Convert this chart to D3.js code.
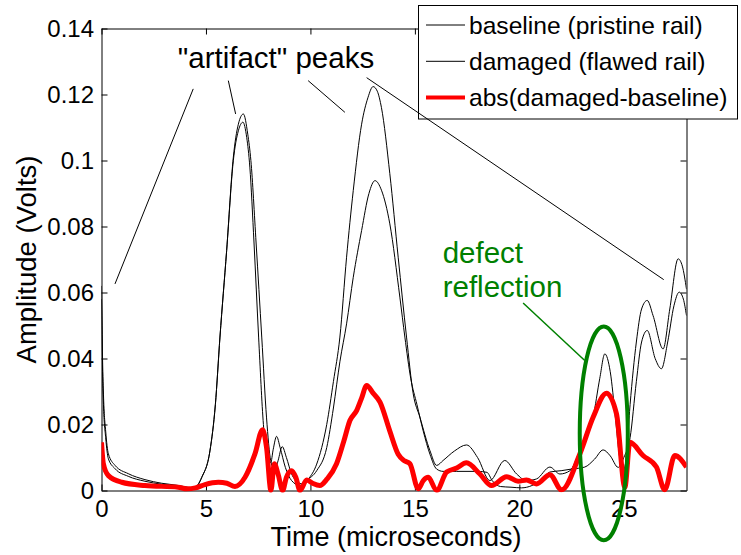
<!DOCTYPE html>
<html><head><meta charset="utf-8">
<script src="https://cdn.jsdelivr.net/npm/d3@7"></script>
<style>body{margin:0;background:#fff}svg text{font-family:"Liberation Sans",Arial,sans-serif}</style>
</head><body><svg id="c" width="741" height="555"></svg>
<script>
// ---- data ----
const timeTicks = [0, 5, 10, 15, 20, 25];
const ampTicks = [0, 0.02, 0.04, 0.06, 0.08, 0.10, 0.12, 0.14];
const ampTickLabels = ["0", "0.02", "0.04", "0.06", "0.08", "0.1", "0.12", "0.14"];
const seriesNames = ["baseline (pristine rail)", "damaged (flawed rail)", "abs(damaged-baseline)"];

// [time (µs), amplitude (V)]
const baseline = [[0,0.058],[0.05,0.036],[0.1,0.025],[0.2,0.016],[0.33,0.0096],[0.65,0.0066],[1.28,0.0043],[2.08,0.0028],[2.88,0.0019],[3.6,0.0014],[4.1,0.0009],[4.4,0.0005],[4.8,0.0040],[5.19,0.012],[5.45,0.026],[5.67,0.0465],[5.99,0.0727],[6.31,0.100],[6.55,0.109],[6.77,0.1116],[6.95,0.107],[7.1,0.098],[7.3,0.075],[7.52,0.0465],[7.75,0.020],[7.95,0.009],[8.1,0.0085],[8.22,0.0125],[8.38,0.0164],[8.55,0.013],[8.8,0.007],[9.1,0.003],[9.5,0.0015],[9.8,0.003],[10.3,0.006],[10.78,0.013],[11.1,0.025],[11.41,0.039],[11.73,0.0505],[12.05,0.0646],[12.45,0.0788],[12.8,0.090],[13.09,0.0939],[13.4,0.091],[13.8,0.0808],[14.28,0.0586],[14.52,0.0465],[14.8,0.034],[15.1,0.026],[15.4,0.018],[15.72,0.011],[16.04,0.0065],[16.35,0.0058],[17.0,0.0058],[18.0,0.0058],[18.45,0.0055],[18.7,0.0030],[19.1,0.0012],[19.6,0.0010],[20.1,0.0008],[20.6,0.0015],[21.1,0.0035],[21.46,0.0056],[22.0,0.0060],[22.5,0.0065],[23.13,0.0071],[23.6,0.0095],[24.01,0.0123],[24.35,0.0105],[24.73,0.0070],[25.0,0.010],[25.3,0.016],[25.6,0.033],[25.85,0.045],[26.12,0.0485],[26.5,0.040],[26.8,0.0369],[27.1,0.045],[27.4,0.056],[27.65,0.0601],[27.85,0.058],[28,0.053]];

const damaged = [[0,0.062],[0.05,0.040],[0.1,0.028],[0.2,0.018],[0.33,0.0111],[0.65,0.0076],[1.28,0.0051],[2.08,0.0033],[2.88,0.0022],[3.6,0.0016],[4.1,0.0010],[4.4,0.0006],[4.8,0.0040],[5.19,0.012],[5.45,0.026],[5.67,0.0465],[5.99,0.0727],[6.31,0.101],[6.55,0.111],[6.79,0.1141],[7.0,0.108],[7.15,0.100],[7.4,0.075],[7.67,0.0465],[7.9,0.022],[8.1,0.009],[8.3,0.006],[8.45,0.009],[8.65,0.0133],[8.85,0.010],[9.1,0.005],[9.4,0.0025],[9.6,0.002],[9.9,0.0035],[10.3,0.008],[10.78,0.020],[11.1,0.033],[11.41,0.0465],[11.73,0.0707],[12.05,0.0909],[12.45,0.111],[12.75,0.119],[13.0,0.1224],[13.2,0.121],[13.4,0.116],[13.8,0.096],[14.2,0.0707],[14.6,0.0465],[14.92,0.0293],[15.24,0.0222],[15.72,0.0121],[16.04,0.0076],[16.35,0.0091],[16.9,0.0120],[17.47,0.0138],[18.0,0.0100],[18.59,0.0030],[19.3,0.0091],[19.87,0.0050],[20.34,0.0030],[20.82,0.0035],[21.46,0.0071],[21.94,0.0050],[22.42,0.0060],[22.89,0.0121],[23.53,0.0222],[23.85,0.034],[24.09,0.0414],[24.35,0.036],[24.6,0.022],[24.8,0.010],[24.97,0.006],[25.1,0.009],[25.3,0.026],[25.6,0.045],[25.85,0.055],[26.12,0.0576],[26.4,0.053],[26.88,0.0429],[27.2,0.055],[27.6,0.0702],[27.8,0.068],[28,0.061]];

const absDiff = [[0,0.0146],[0.09,0.0081],[0.33,0.0045],[0.97,0.0025],[2.08,0.0015],[3.67,0.0010],[4.08,0.0005],[4.5,0.0008],[4.95,0.0018],[5.59,0.0025],[6.0,0.0022],[6.39,0.0012],[6.87,0.0040],[7.34,0.011],[7.71,0.0184],[7.9,0.013],[8.11,0.0],[8.27,0.0081],[8.45,0.005],[8.67,0.0],[8.85,0.004],[9.1,0.006],[9.3,0.004],[9.5,0.0],[9.82,0.0032],[10.1,0.0022],[10.45,0.0015],[10.8,0.0035],[11.25,0.0081],[11.6,0.015],[11.89,0.0212],[12.21,0.0242],[12.45,0.028],[12.69,0.0318],[13.0,0.0295],[13.33,0.0268],[13.8,0.018],[14.2,0.011],[14.5,0.009],[14.76,0.0081],[15.16,0.0005],[15.4,0.003],[15.64,0.004],[16.04,0.0],[16.52,0.0056],[17.0,0.0068],[17.47,0.0084],[18.11,0.005],[18.67,0.0015],[19.39,0.0042],[19.94,0.0028],[20.34,0.0032],[20.82,0.002],[21.46,0.0048],[22.02,0.0002],[22.89,0.011],[23.53,0.0222],[24.17,0.0295],[24.65,0.0232],[25.05,0.001],[25.29,0.0146],[25.92,0.0106],[26.56,0.0071],[26.96,0.0002],[27.44,0.0106],[28,0.0071]];

// annotation anchors in data coordinates [t, v]
const artifactLabel = {text: "\"artifact\" peaks", at: [8.35, 0.1279]};
const artifactPointers = [
  [[4.39, 0.1217], [0.646, 0.0626]],
  [[6.07, 0.1242], [6.42, 0.1141]],
  [[9.89, 0.1242], [11.65, 0.1146]],
  [[12.69, 0.1251], [26.91, 0.0639]]
];
const defectLabel = {lines: ["defect", "reflection"], at: [16.33, 0.0688]};
const defectPointer = [[20.18, 0.0568], [23.13, 0.0394]];
const defectEllipse = {center: [24.04, 0.0173], half: [1.15, 0.0324]};

// ---- chart ----
const L = 101.5, R = 686.5, T = 28.5, B = 490.5;
const svg = d3.select("#c");
const x = d3.scaleLinear().domain([0, 28]).range([L, R]);
const y = d3.scaleLinear().domain([0, 0.14]).range([B, T]);

const axStyle = g => { g.selectAll("path,line").attr("stroke", "#000").attr("stroke-width", 1);
  g.selectAll("text").attr("fill", "#000").style("font-size", "24px").attr("font-family", null); };

svg.append("g").attr("transform", `translate(0,${B})`)
  .call(d3.axisBottom(x).tickValues(timeTicks).tickSizeInner(-6).tickSizeOuter(0).tickPadding(9.5).tickFormat(d3.format("d")))
  .call(axStyle);
svg.append("g").attr("transform", `translate(0,${T})`)
  .call(d3.axisTop(x).tickValues(timeTicks).tickSizeInner(-6).tickSizeOuter(0).tickFormat(""))
  .call(axStyle);
svg.append("g").attr("transform", `translate(${L},0)`)
  .call(d3.axisLeft(y).tickValues(ampTicks).tickSizeInner(-6).tickSizeOuter(0).tickPadding(7.5).tickFormat((d, i) => ampTickLabels[i]))
  .call(axStyle);
svg.append("g").attr("transform", `translate(${R},0)`)
  .call(d3.axisRight(y).tickValues(ampTicks).tickSizeInner(-6).tickSizeOuter(0).tickFormat(""))
  .call(axStyle);

// axis titles
svg.append("text").attr("x", (L + R) / 2 + 2).attr("y", 546).attr("text-anchor", "middle")
  .style("font-size", "27px").text("Time (microseconds)");
svg.append("text").attr("transform", `translate(36,${(T + B) / 2}) rotate(-90)`).attr("text-anchor", "middle")
  .style("font-size", "27.5px").text("Amplitude (Volts)");

// series
const clipId = "plotclip";
svg.append("clipPath").attr("id", clipId).append("rect").attr("x", L).attr("y", T - 2).attr("width", R - L).attr("height", B - T + 4);
const line = d3.line().x(d => x(d[0])).y(d => y(d[1])).curve(d3.curveMonotoneX);
const plot = svg.append("g").attr("clip-path", `url(#${clipId})`);
plot.append("path").datum(baseline).attr("d", line).attr("fill", "none").attr("stroke", "#000").attr("stroke-width", 1);
plot.append("path").datum(damaged).attr("d", line).attr("fill", "none").attr("stroke", "#000").attr("stroke-width", 1);
plot.append("path").datum(absDiff).attr("d", line).attr("fill", "none").attr("stroke", "#ff0000").attr("stroke-width", 5).attr("stroke-linejoin", "round");

// legend
const lg = svg.append("g");
lg.append("rect").attr("x", 418.5).attr("y", 5.5).attr("width", 319).attr("height", 113.5).attr("fill", "#fff").attr("stroke", "#000").attr("stroke-width", 1);
const legendStyles = [{c: "#000", w: 1}, {c: "#000", w: 1}, {c: "#ff0000", w: 4}];
seriesNames.forEach((n, i) => {
  const yy = 25 + i * 36.3;
  lg.append("line").attr("x1", 426).attr("x2", 465).attr("y1", yy).attr("y2", yy).attr("stroke", legendStyles[i].c).attr("stroke-width", legendStyles[i].w);
  lg.append("text").attr("x", 469).attr("y", yy + 8.5).style("font-size", "24.6px").text(n);
});

// annotations
svg.append("text").attr("x", x(artifactLabel.at[0])).attr("y", y(artifactLabel.at[1])).attr("text-anchor", "middle")
  .style("font-size", "29.5px").text(artifactLabel.text);
artifactPointers.forEach(p => {
  svg.append("line").attr("x1", x(p[0][0])).attr("y1", y(p[0][1])).attr("x2", x(p[1][0])).attr("y2", y(p[1][1]))
    .attr("stroke", "#000").attr("stroke-width", 1);
});
const green = "#008000";
defectLabel.lines.forEach((t, i) => {
  svg.append("text").attr("x", x(defectLabel.at[0])).attr("y", y(defectLabel.at[1]) + i * 33.5)
    .attr("fill", green).style("font-size", "29.5px").text(t);
});
svg.append("line").attr("x1", x(defectPointer[0][0])).attr("y1", y(defectPointer[0][1])).attr("x2", x(defectPointer[1][0])).attr("y2", y(defectPointer[1][1]))
  .attr("stroke", green).attr("stroke-width", 1.5);
svg.append("ellipse").attr("cx", x(defectEllipse.center[0])).attr("cy", y(defectEllipse.center[1]))
  .attr("rx", x(defectEllipse.half[0]) - x(0)).attr("ry", y(0) - y(defectEllipse.half[1]))
  .attr("fill", "none").attr("stroke", green).attr("stroke-width", 4);
</script></body></html>
